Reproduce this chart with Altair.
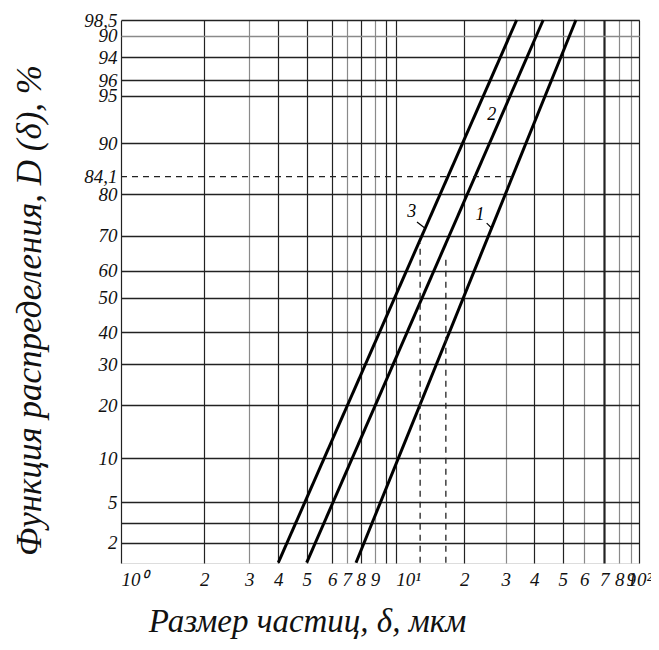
import altair as alt
import pandas as pd

# ---- data ----
# x grid (particle size, µm) on the log paper and its labels
x_tick_values = [1, 2, 3, 4, 5, 6, 7, 8, 9, 9.5, 10, 20, 30, 40, 50, 60, 70, 80, 90, 100]
x_tick_labels = ["10⁰", "2", "3", "4", "5", "6", "7", "8", "9", "", "10¹",
                 "2", "3", "4", "5", "6", "7", "8", "9", "10²"]
x_light_lines = [3, 7, 9, 30, 60, 80, 90]
x_heavy_lines = [70]
# y grid (distribution function, %) and its labels as printed
y_tick_values = [2, 3, 5, 10, 20, 30, 40, 50, 60, 70, 80, 84.1, 90, 95, 96, 97, 98, 98.5]
y_tick_labels = ["2", "", "5", "10", "20", "30", "40", "50", "60", "70", "80",
                 "84,1", "90", "95", "96", "94", "90", "98,5"]
y_light_lines = [98]

# the paper's (hand drawn) grid: breakpoints of the scales
x_paper_domain = [1, 2, 3, 4, 5, 6, 7, 8, 9, 10, 20, 30, 40, 50, 60, 70, 80, 90, 100]
x_paper_range = [0, 83.3, 128.3, 157.3, 185.7, 211.3, 225.7, 239.7, 254, 274.7,
                 343.3, 384.7, 413.3, 441.7, 463.3, 483.3, 498.3, 509.7, 518.3]
y_paper_domain = [1.5, 2, 3, 5, 10, 20, 30, 40, 50, 60, 70, 80, 84.1, 90, 95, 96, 97, 98, 98.5]
y_paper_range = [542.7, 522.7, 502.7, 482.3, 438.3, 385, 344, 312.3, 277.7, 250.7,
                 215.7, 174, 156.7, 123.3, 75.7, 60, 37.3, 15.7, 0]

# the three distribution lines: size at bottom and top of the paper
series = ["1", "2", "3"]
size_bottom = [7.65, 5.0, 4.0]
size_top = [55.9, 42.9, 33.5]
d_bottom = 1.5
d_top = 98.5

# dashed guide lines
h_dash_size = [1, 32.1]
h_dash_d = 84.1
v_dash_size = [12.8, 16.6]
v_dash_top = [67.9, 64.5]

# curve number labels and their small leaders
label_text = ["1", "2", "3"]
label_size = [23.3, 26.2, 11.75]
label_d = [75.0, 93.0, 75.8]
leader_id = ["1", "1", "3", "3"]
leader_size = [24.9, 26.2, 12.4, 13.45]
leader_d = [73.0, 71.8, 73.3, 71.8]

# ---- tables ----
lines_df = pd.DataFrame({
    "series": series * 2,
    "size": size_bottom + size_top,
    "D": [d_bottom] * 3 + [d_top] * 3,
})
hdash_df = pd.DataFrame({"size": h_dash_size, "D": [h_dash_d, h_dash_d], "id": ["h", "h"]})
vdash_rows = []
for i, (s, t) in enumerate(zip(v_dash_size, v_dash_top)):
    vdash_rows.append({"size": s, "D": d_bottom, "id": f"v{i}"})
    vdash_rows.append({"size": s, "D": t, "id": f"v{i}"})
vdash_df = pd.DataFrame(vdash_rows)
labels_df = pd.DataFrame({"t": label_text, "size": label_size, "D": label_d})
leader_df = pd.DataFrame({"id": leader_id, "size": leader_size, "D": leader_d})


def label_expr(values, labels):
    expr = "''"
    for v, l in reversed(list(zip(values, labels))):
        expr = f"datum.value == {v} ? '{l}' : ({expr})"
    return expr


def in_test(values):
    return " || ".join(f"datum.value == {v}" for v in values)


FONT = "Liberation Serif"

x_scale = alt.Scale(type="log", domain=x_paper_domain, range=x_paper_range,
                    nice=False, zero=False, clamp=True)
y_scale = alt.Scale(type="linear", domain=y_paper_domain, range=y_paper_range,
                    nice=False, zero=False, clamp=True)

x_axis = alt.Axis(
    values=x_tick_values, tickCount=200,
    labelExpr=label_expr(x_tick_values, x_tick_labels),
    grid=True,
    gridColor={"condition": {"test": in_test(x_light_lines), "value": "#8a8a8a"}, "value": "#222"},
    gridWidth={"condition": {"test": in_test(x_heavy_lines), "value": 2.2}, "value": 1.2},
    ticks=False, domain=False,
    labelOverlap=False, labelFlush=False,
    labelFont=FONT, labelFontStyle="italic", labelFontSize=19, labelColor="#111",
    labelPadding=7,
    labelAlign={"condition": {"test": "datum.value == 1 || datum.value == 10",
                              "value": "left"}, "value": "center"},
    title="Размер частиц, δ, мкм",
    titleFont=FONT, titleFontStyle="italic", titleFontWeight="normal", titleFontSize=33,
    titleColor="#111", titleX=186, titleY=58, titleAlign="center", titleBaseline="middle",
)
y_axis = alt.Axis(
    values=y_tick_values, tickCount=200,
    labelExpr=label_expr(y_tick_values, y_tick_labels),
    grid=True,
    gridColor={"condition": {"test": in_test(y_light_lines), "value": "#8a8a8a"}, "value": "#222"},
    gridWidth=1.3,
    gridOpacity={"condition": {"test": "datum.value == 84.1", "value": 0}, "value": 1},
    ticks=False, domain=False,
    labelOverlap=False, labelFlush=False,
    labelFont=FONT, labelFontStyle="italic", labelFontSize=19, labelColor="#111",
    labelPadding=4, labelBaseline="middle",
    title="Функция распределения, D (δ), %",
    titleFont=FONT, titleFontStyle="italic", titleFontWeight="normal", titleFontSize=35,
    titleColor="#111", titleX=-92, titleY=290, titleAlign="center", titleBaseline="middle",
    titleAngle=270,
)

base_x = alt.X("size:Q", scale=x_scale, axis=x_axis)
base_y = alt.Y("D:Q", scale=y_scale, axis=y_axis)

lines = alt.Chart(lines_df).mark_line(color="black", strokeWidth=3).encode(
    x=base_x, y=base_y, detail="series:N")

hdash = alt.Chart(hdash_df).mark_line(color="#222", strokeWidth=1.3, strokeDash=[6, 5]).encode(
    x=alt.X("size:Q", scale=x_scale), y=alt.Y("D:Q", scale=y_scale), detail="id:N")

vdash = alt.Chart(vdash_df).mark_line(color="#222", strokeWidth=1.3, strokeDash=[6, 5]).encode(
    x=alt.X("size:Q", scale=x_scale), y=alt.Y("D:Q", scale=y_scale), detail="id:N")

leaders = alt.Chart(leader_df).mark_line(color="black", strokeWidth=1.2).encode(
    x=alt.X("size:Q", scale=x_scale), y=alt.Y("D:Q", scale=y_scale), detail="id:N")

nums = alt.Chart(labels_df).mark_text(font=FONT, fontStyle="italic", fontSize=18,
                                      color="black", baseline="middle").encode(
    x=alt.X("size:Q", scale=x_scale), y=alt.Y("D:Q", scale=y_scale), text="t:N")

chart = alt.layer(lines, hdash, vdash, leaders, nums).properties(
    width=518, height=543,
    autosize=alt.AutoSizeParams(type="none"),
    padding={"left": 113, "top": 12, "right": 12, "bottom": 78},
).configure_view(stroke="black", strokeWidth=2).configure(background="white")

chart.save("out.html", embed_options={"renderer": "svg", "actions": False})
